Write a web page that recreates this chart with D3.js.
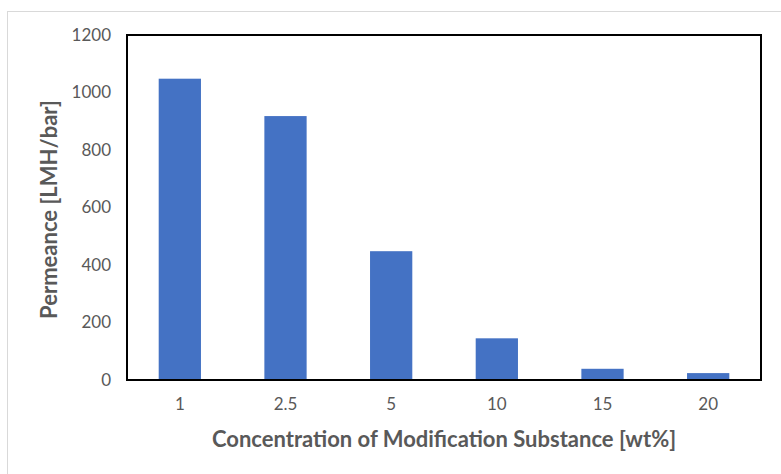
<!DOCTYPE html>
<html>
<head>
  <meta charset="utf-8">
  <script src="https://d3js.org/d3.v7.min.js"></script>
  <style>
    body { margin: 0; background: #fff; }
    text { font-family: Lato, "Open Sans", sans-serif; fill: #595959; }
  </style>
</head>
<body>
<svg id="chart" width="781" height="474"></svg>
<script>
  // données
  const concentrations = ["1", "2.5", "5", "10", "15", "20"];
  const permeance = [1048, 918, 448, 145, 39, 24];
  const yTicks = [0, 200, 400, 600, 800, 1000, 1200];

  const margin = { top: 35, right: 20, bottom: 94, left: 127 };
  const width = 761 - margin.left,
        height = 380 - margin.top;

  const svg = d3.select("#chart");

  // cadre extérieur gris clair
  svg.append("rect")
    .attr("x", 7.5).attr("y", 11.5)
    .attr("width", 800).attr("height", 480)
    .attr("fill", "none")
    .attr("stroke", "#d9d9d9");

  const g = svg.append("g")
    .attr("transform", `translate(${margin.left},${margin.top})`);

  const x = d3.scaleBand()
    .domain(concentrations)
    .range([0, width])
    .paddingInner(0.6)
    .paddingOuter(0.3);

  const y = d3.scaleLinear()
    .domain([0, 1200])
    .range([height, 0]);

  // barres
  g.selectAll(".bar")
    .data(concentrations)
    .enter()
    .append("rect")
    .attr("class", "bar")
    .attr("x", d => x(d))
    .attr("y", (d, i) => y(permeance[i]))
    .attr("width", x.bandwidth())
    .attr("height", (d, i) => height - y(permeance[i]))
    .attr("fill", "#4472c4");

  // boîte du graphique
  g.append("rect")
    .attr("x", 0).attr("y", 0)
    .attr("width", width).attr("height", height)
    .attr("fill", "none")
    .attr("stroke", "#000")
    .attr("stroke-width", 2);

  // axe Y
  const yAxis = g.append("g")
    .call(d3.axisLeft(y).tickValues(yTicks).tickFormat(d3.format("d")).tickSize(0).tickPadding(16));
  yAxis.select(".domain").remove();
  yAxis.selectAll("text")
    .style("font-size", "17px")
    .attr("fill", "#595959");

  // axe X
  const xAxis = g.append("g")
    .attr("transform", `translate(0,${height})`)
    .call(d3.axisBottom(x).tickSize(0).tickPadding(18));
  xAxis.select(".domain").remove();
  xAxis.selectAll("text")
    .style("font-size", "17px")
    .attr("fill", "#595959");

  // titres des axes
  svg.append("text")
    .attr("x", margin.left + width / 2)
    .attr("y", 447)
    .attr("text-anchor", "middle")
    .style("font-size", "22px")
    .style("font-weight", "bold")
    .text("Concentration of Modification Substance [wt%]");

  svg.append("text")
    .attr("transform", `translate(57,${margin.top + height / 2 + 2}) rotate(-90)`)
    .attr("text-anchor", "middle")
    .style("font-size", "22px")
    .style("font-weight", "bold")
    .text("Permeance [LMH/bar]");
</script>
</body>
</html>
